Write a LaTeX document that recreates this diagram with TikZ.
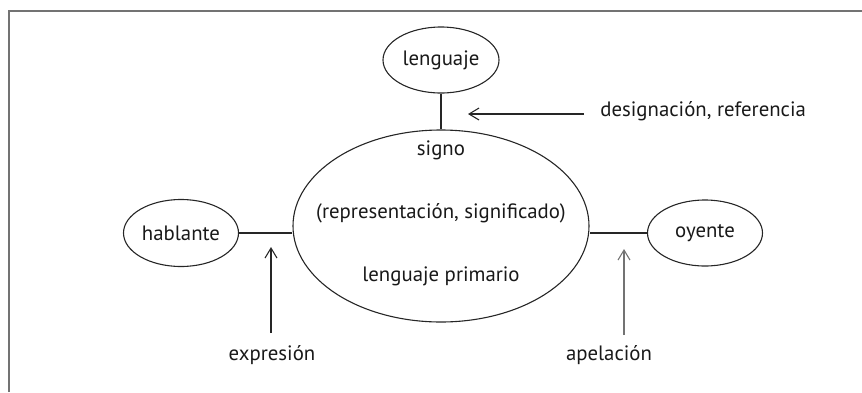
\documentclass[tikz,border=0pt]{standalone}
\usepackage{fontspec}
\setmainfont{PT Sans}
\usetikzlibrary{arrows.meta,shapes.geometric}
\def\lgray{black!55}
\def\ink{black!85}

\begin{document}
\begin{tikzpicture}[
    x=0.5pt, y=-0.5pt,
    font=\fontsize{10.4}{12}\selectfont,
    text=black!90,
    blob/.style={
      draw=\ink, ellipse, inner sep=0pt, line width=0.55pt
    },
    arrowtip/.style={
      draw=\ink, line width=0.55pt, -{Straight Barb[length=5pt,width=6pt]}
    }
  ]
    \useasboundingbox (0,0) rectangle (862,392);
    \draw[\lgray, line width=1pt] (8.5,392) -- (8.5,10.5) -- (862,10.5);

    % ellipses
    \node[blob, minimum width=58pt, minimum height=33pt] (lenguaje) at (441,60) {lenguaje};
    \node[blob, minimum width=148pt, minimum height=96pt] (signo) at (441,226) {};
    \node[blob, minimum width=57.5pt, minimum height=33.5pt] (hablante) at (181,233) {hablante};
    \node[blob, minimum width=57.5pt, minimum height=33pt] (oyente) at (705,233) {oyente};

    % texts inside the sign
    \node (signotxt) at (441,150) {signo};
    \node (reprtxt) at (441,213) {(representación, significado)};
    \node (primtxt) at (441,276) {lenguaje primario};

    % connections
    \draw[draw=\ink, line width=0.55pt] (lenguaje) -- (signo);
    \draw[draw=\ink, line width=0.55pt] (hablante.east) -- (hablante.east -| signo.west);
    \draw[draw=\ink, line width=0.55pt] (oyente.west) -- (oyente.west -| signo.east);

    % functions
    \node[anchor=west, inner sep=1pt] (desig) at (598,111) {designación, referencia};
    \node[inner sep=1pt] (expr) at (272,355) {expresión};
    \node[inner sep=1pt] (apel) at (609,355) {apelación};
    \coordinate (desigtip) at (468,114);
    \coordinate (exprtail) at (271,333);
    \coordinate (exprtip) at (271,247);
    \coordinate (apeltail) at (624,335);
    \coordinate (apeltip) at (624,249);

    \draw[arrowtip] (desig.west |- desigtip) ++(-14,0) -- (desigtip);
    \draw[arrowtip] (exprtail) -- (exprtip);
    \draw[arrowtip, draw=\lgray] (apeltail) -- (apeltip);
  \end{tikzpicture}
\end{document}
